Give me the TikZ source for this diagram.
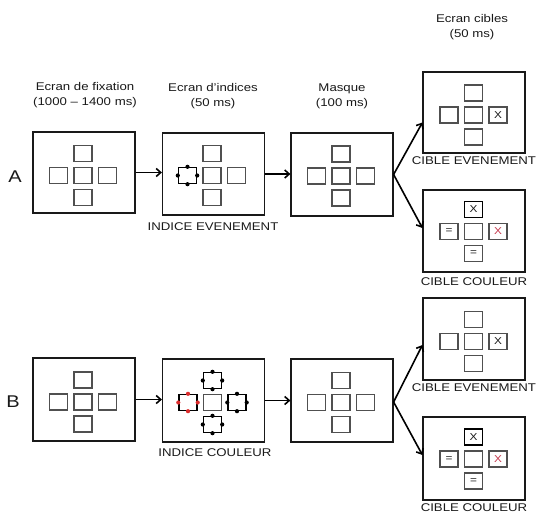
\documentclass[tikz,border=0pt]{standalone}
\usepackage{fontspec}
\setmainfont[FakeStretch=1.18]{Liberation Sans}
\usetikzlibrary{arrows.meta,calc}
\definecolor{txt}{RGB}{25,25,25}
\definecolor{sqgray}{RGB}{80,80,80}
\definecolor{xred}{RGB}{195,55,75}
\definecolor{dotred}{RGB}{220,45,45}
\newcommand\mkcross[8]{%
  \node[#4] (#1n) at (#2,#3-22) {};
  \node[#5] (#1w) at (#2-24.5,#3) {};
  \node[#6] (#1c) at (#2,#3) {};
  \node[#7] (#1e) at (#2+24.5,#3) {};
  \node[#8] (#1s) at (#2,#3+22) {};
}
\newcommand\cuedots[2]{%
  \foreach \a in {north,south,east,west} \fill[#2] (#1.\a) circle[radius=2.1pt];
}
\begin{document}
\begin{tikzpicture}[x=1pt,y=-1pt,
  every node/.style={text=txt},
  frame/.style={draw=txt,line width=1.2pt,minimum width=102pt,inner sep=0pt},
  sq/.style={draw=sqgray,line width=1.2pt,minimum width=18pt,minimum height=16pt,inner sep=0pt},
  cue/.style={sq,draw=black,line width=1.4pt},
  lab/.style={font=\fontsize{10}{12}\selectfont},
  xbox/.style={sq,label={[lab,text=txt]center:X}},
  xboxk/.style={sq,draw=black,label={[lab,text=txt]center:X}},
  xboxr/.style={sq,label={[lab,text=xred]center:X}},
  ebox/.style={sq,label={[lab,text=txt]center:=}},
  head/.style={font=\fontsize{11.2}{15}\selectfont,align=center},
  captxt/.style={font=\fontsize{11.2}{13}\selectfont},
  rowlab/.style={font=\fontsize{17}{19}\selectfont},
  arr/.style={line width=1.6pt,-{Straight Barb[length=4.5pt,width=8pt]}}
]
\useasboundingbox (0,0) rectangle (538,525);

% headers
\node[head] (h1) at (85,95) {Ecran de fixation\\(1000 -- 1400 ms)};
\node[head] (h2) at (213,96) {Ecran d'indices\\(50 ms)};
\node[head] (h3) at (342,96) {Masque\\(100 ms)};
\node[head] (h4) at (472,27) {Ecran cibles\\(50 ms)};

\node[rowlab] (rA) at (15,177) {A};
\node[rowlab] (rB) at (13,402) {B};

% ---------- Row A ----------
\node[frame,minimum height=81pt] (FA) at (84,172.5) {};
\node[frame,minimum height=82pt] (IA) at (213.5,174) {};
\node[frame,minimum height=83pt] (MA) at (342,174.5) {};
\node[frame,minimum height=81pt] (TA1) at (474,112.5) {};
\node[frame,minimum height=82pt] (TA2) at (474,231) {};

\mkcross{fa}{83}{175.5}{sq}{sq}{sq}{sq}{sq}
\mkcross{ia}{212}{175.5}{sq}{cue}{sq}{sq}{sq}
\cuedots{iaw}{black}
\mkcross{ma}{341}{176}{sq}{sq}{sq}{sq}{sq}
\mkcross{ta1}{473.5}{115}{sq}{sq}{sq}{xbox}{sq}
\mkcross{ta2}{473.5}{231.5}{xboxk}{ebox}{sq}{xboxr}{ebox}

\node[captxt] (cIA) at (213,227) {INDICE EVENEMENT};
\node[captxt] (cTA1) at (474,161) {CIBLE EVENEMENT};
\node[captxt] (cTA2) at (474,282) {CIBLE COULEUR};

\draw[arr] (FA.east) -- (FA.east -| IA.west);
\draw[arr] (IA.east) -- (IA.east -| MA.west);
\draw[arr] (MA.east) -- ([yshift=-10pt]TA1.west);
\draw[arr] (MA.east) -- ([yshift=3pt]TA2.west);

% ---------- Row B ----------
\node[frame,minimum height=83pt] (FB) at (84,399.5) {};
\node[frame,minimum height=83pt] (IB) at (213.5,400.5) {};
\node[frame,minimum height=83pt] (MB) at (342,400.5) {};
\node[frame,minimum height=82pt] (TB1) at (474,339) {};
\node[frame,minimum height=83pt] (TB2) at (474,458.5) {};

\mkcross{fb}{83}{402}{sq}{sq}{sq}{sq}{sq}
\mkcross{ib}{212.5}{402.5}{cue}{cue}{sq}{cue}{cue}
\cuedots{ibn}{black}
\cuedots{ibe}{black}
\cuedots{ibs}{black}
\cuedots{ibw}{dotred}
\mkcross{mb}{341}{402.5}{sq}{sq}{sq}{sq}{sq}
\mkcross{tb1}{473.5}{341.5}{sq}{sq}{sq}{xbox}{sq}
\mkcross{tb2}{473.5}{459}{xboxk}{ebox}{sq}{xboxr}{ebox}

\node[captxt] (cIB) at (215,453) {INDICE COULEUR};
\node[captxt] (cTB1) at (474,388) {CIBLE EVENEMENT};
\node[captxt] (cTB2) at (474,508) {CIBLE COULEUR};

\draw[arr] (FB.east) -- (FB.east -| IB.west);
\draw[arr] (IB.east) -- (IB.east -| MB.west);
\draw[arr] ([yshift=-1.5pt]MB.east) -- ([yshift=-6pt]TB1.west);
\draw[arr] ([yshift=-1.5pt]MB.east) -- ([yshift=3.5pt]TB2.west);
\end{tikzpicture}
\end{document}
